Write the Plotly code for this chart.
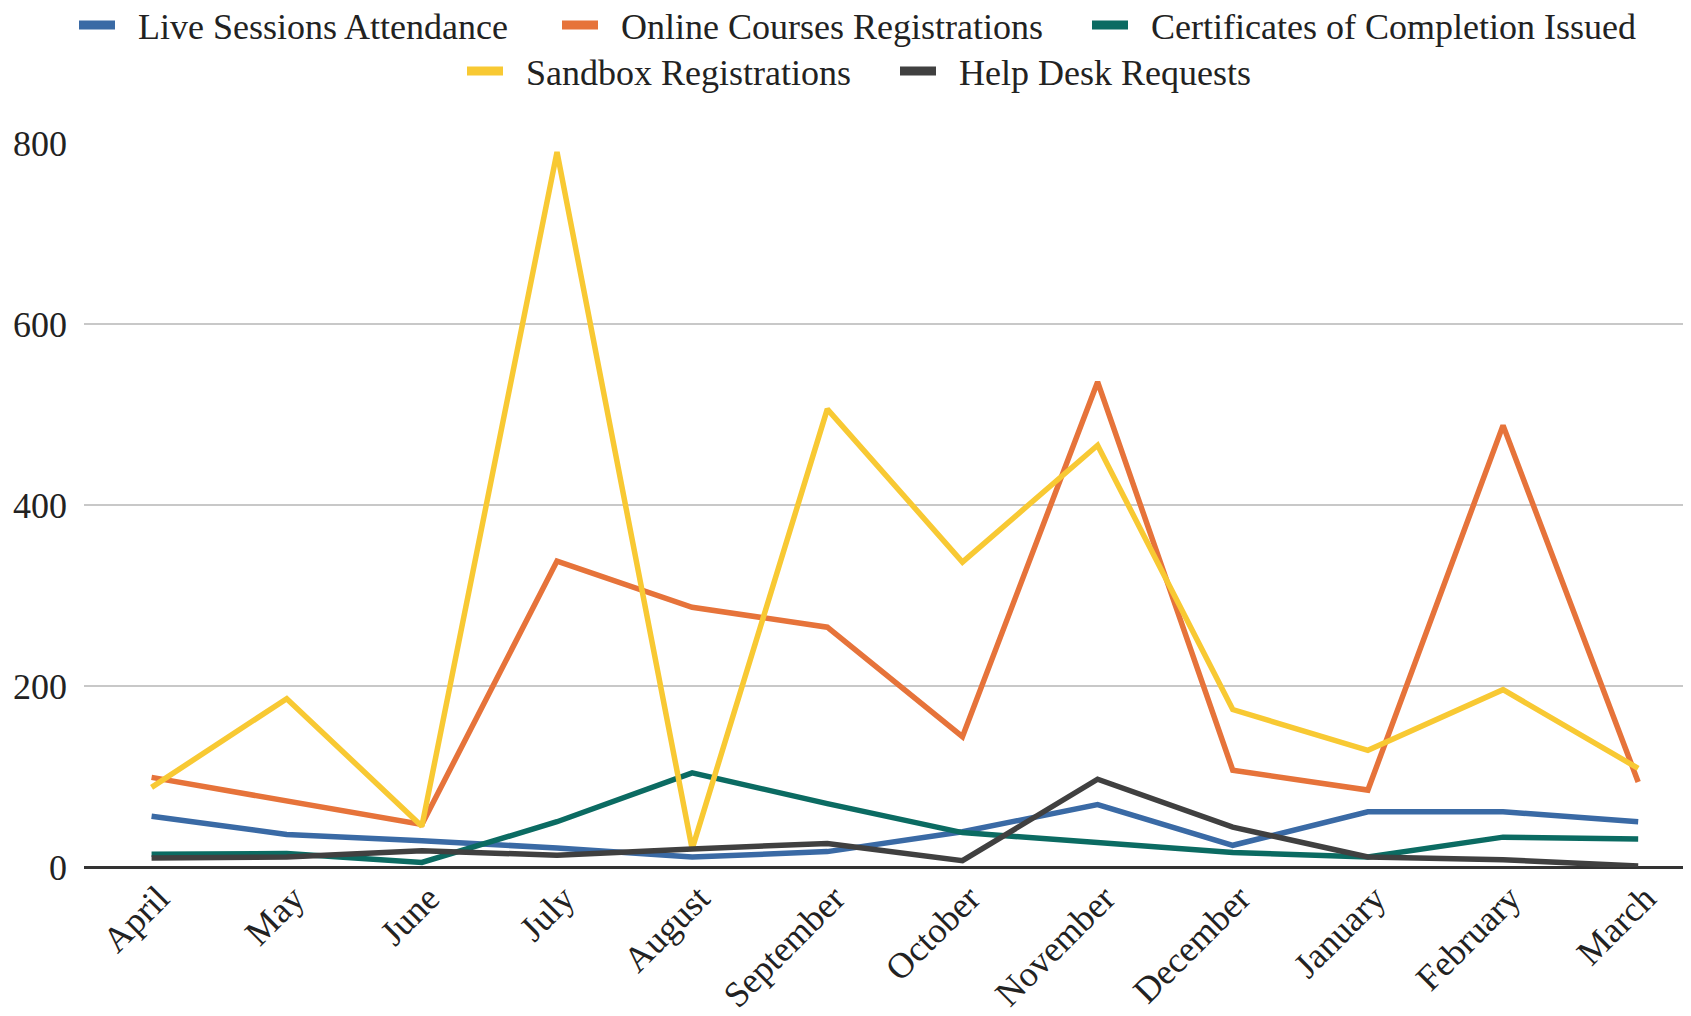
import plotly.graph_objects as go

months = ["April", "May", "June", "July", "August", "September", "October",
          "November", "December", "January", "February", "March"]

live_sessions = [56, 36, 29, 21, 11, 17, 39, 69, 24, 61, 61, 50]
online_courses = [99, 73, 47, 338, 287, 265, 144, 536, 107, 85, 488, 94]
certificates = [14, 15, 5, 50, 104, 70, 38, 27, 16, 11, 33, 31]
sandbox = [88, 186, 45, 790, 20, 506, 337, 466, 174, 129, 196, 109]
help_desk = [10, 11, 18, 13, 20, 26, 7, 97, 44, 11, 8, 1]

names = ["Live Sessions Attendance", "Online Courses Registrations",
         "Certificates of Completion Issued", "Sandbox Registrations",
         "Help Desk Requests"]
values = [live_sessions, online_courses, certificates, sandbox, help_desk]
colors = ["#3a6aa5", "#e6733a", "#0b6b62", "#f8c933", "#404040"]

FONT = "Liberation Serif"
FS = 36
TXT = "#222222"
PAD = "\u00a0\u00a0"

# legend placement (container fractions): (x_left, y_center)
row1 = 1 - 17 / 1016
row2 = 1 - 63 / 1016
leg_pos = [(66 / 1691, row1), (549 / 1691, row1), (1079 / 1691, row1),
           (454 / 1691, row2), (887 / 1691, row2)]
leg_ids = ["legend", "legend2", "legend3", "legend4", "legend5"]

fig = go.Figure()
for name, vals, color in zip(names, values, colors):
    fig.add_trace(go.Scatter(
        x=months, y=vals, name=name, mode="lines",
        line=dict(color=color, width=5.5), showlegend=False,
    ))
# legend entries (thick short bars)
for name, color, lid in zip(names, colors, leg_ids):
    fig.add_trace(go.Scatter(
        x=[months[0]], y=[None], name=PAD + name, mode="lines",
        line=dict(color=color, width=9), legend=lid, showlegend=True,
        hoverinfo="skip",
    ))

layout_legends = {}
for lid, (lx, ly) in zip(leg_ids, leg_pos):
    layout_legends[lid] = dict(
        orientation="h", xref="container", yref="container",
        x=lx, xanchor="left", y=ly, yanchor="middle",
        font=dict(family=FONT, size=FS, color=TXT),
        itemwidth=36, bgcolor="rgba(0,0,0,0)", borderwidth=0,
    )

fig.update_layout(
    width=1691, height=1016,
    margin=dict(l=76, r=0, t=135, b=157),
    paper_bgcolor="white", plot_bgcolor="white",
    font=dict(family=FONT, size=FS, color=TXT),
    showlegend=True,
    xaxis=dict(type="category", range=[-0.5, 11.45], tickangle=-45,
               showgrid=False, showline=False, ticks="",
               ticklabelshift=7, ticklabelstandoff=2,
               tickfont=dict(family=FONT, size=FS, color=TXT)),
    yaxis=dict(range=[0, 800], tickvals=[0, 200, 400, 600, 800],
               showgrid=True, gridcolor="#c8c8c8", gridwidth=2,
               zeroline=True, zerolinecolor="#333333", zerolinewidth=3,
               showline=False, ticks="", ticklabelstandoff=16,
               tickfont=dict(family=FONT, size=FS, color=TXT)),
    **layout_legends,
)

fig.write_html("out.html")
